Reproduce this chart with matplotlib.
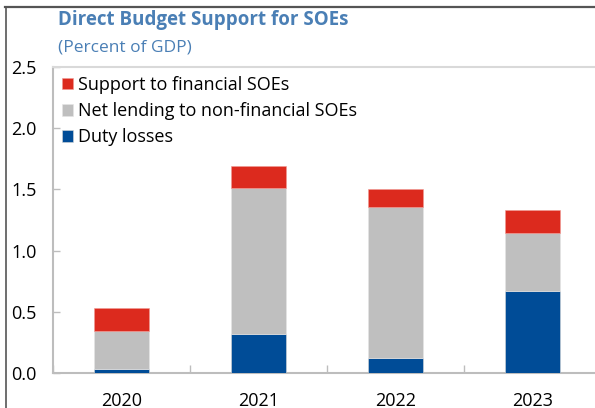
import numpy as np
import matplotlib.pyplot as plt
from matplotlib.lines import Line2D

plt.rcParams['font.family'] = ['Open Sans', 'DejaVu Sans']

# ---------------------- Data (percent of GDP) ----------------------
years = ['2020', '2021', '2022', '2023']
duty_losses = [0.03, 0.32, 0.12, 0.67]
net_lending = [0.31, 1.19, 1.24, 0.47]
financial_support = [0.19, 0.18, 0.14, 0.19]

C_RED = '#DC2A1E'
C_GRAY = '#BFBFBF'
C_BLUE = '#004C97'
C_TITLE = '#4A7FB5'
C_AXIS = '#BDBDBD'

fig = plt.figure(figsize=(5.95, 4.08), dpi=100)
ax = fig.add_axes([53 / 595, 1 - 373 / 408, 548 / 595, 306 / 408])

x = np.arange(len(years))
w = 0.4
bottom2 = np.array(duty_losses)
bottom3 = bottom2 + np.array(net_lending)
ax.bar(x, duty_losses, width=w, color=C_BLUE, edgecolor='#d8d8d8', linewidth=0.4,
       label='Duty losses', zorder=3)
ax.bar(x, net_lending, width=w, bottom=bottom2, color=C_GRAY, edgecolor='#e6e6e6',
       linewidth=0.4, label='Net lending to non-financial SOEs', zorder=3)
ax.bar(x, financial_support, width=w, bottom=bottom3, color=C_RED, edgecolor='#ef9a94',
       linewidth=0.4, label='Support to financial SOEs', zorder=3)

ax.set_xlim(-0.5, 3.5)
ax.set_ylim(0, 2.5)
ax.set_yticks(np.arange(0, 2.51, 0.5))
ax.set_yticklabels([f'{v:.1f}' for v in np.arange(0, 2.51, 0.5)])
ax.tick_params(axis='y', direction='in', length=5, width=1, color=C_AXIS,
               labelsize=13, pad=12)

# category labels centred on bars, tick marks between categories
ax.set_xticks(np.arange(-0.5, 3.6, 1.0))
ax.set_xticklabels([])
ax.set_xticks(x, minor=True)
ax.set_xticklabels(years, minor=True)
ax.tick_params(axis='x', which='major', direction='in', length=6, width=1, color=C_AXIS)
ax.tick_params(axis='x', which='minor', length=0, labelsize=13, pad=14)

for side in ['left', 'bottom', 'top']:
    ax.spines[side].set_color(C_AXIS)
    ax.spines[side].set_linewidth(1.5)
ax.spines['top'].set_color('#D9D9D9')
ax.spines['right'].set_visible(False)

handles, labels = ax.get_legend_handles_labels()
leg = ax.legend(handles[::-1], labels[::-1], loc='upper left', bbox_to_anchor=(0.0, 1.0),
                frameon=False, fontsize=13, handlelength=0.6, handleheight=0.6,
                handletextpad=0.3, labelspacing=0.45, borderaxespad=0.1,
                borderpad=0.4)

fig.text(58 / 595, 1 - 20 / 408, 'Direct Budget Support for SOEs', color=C_TITLE,
         fontsize=13.5, fontweight='bold', va='center', ha='left')
fig.text(58 / 595, 1 - 47 / 408, '(Percent of GDP)', color=C_TITLE,
         fontsize=12.5, va='center', ha='left')

# panel frame lines at top and left
fig.add_artist(Line2D([5 / 595, 1], [1 - 6.5 / 408, 1 - 6.5 / 408],
                      transform=fig.transFigure, color='#555555', linewidth=1.6))
fig.add_artist(Line2D([5.5 / 595, 5.5 / 595], [0, 1 - 6.5 / 408],
                      transform=fig.transFigure, color='#555555', linewidth=1.2))

fig.savefig('out.png', dpi=100)
